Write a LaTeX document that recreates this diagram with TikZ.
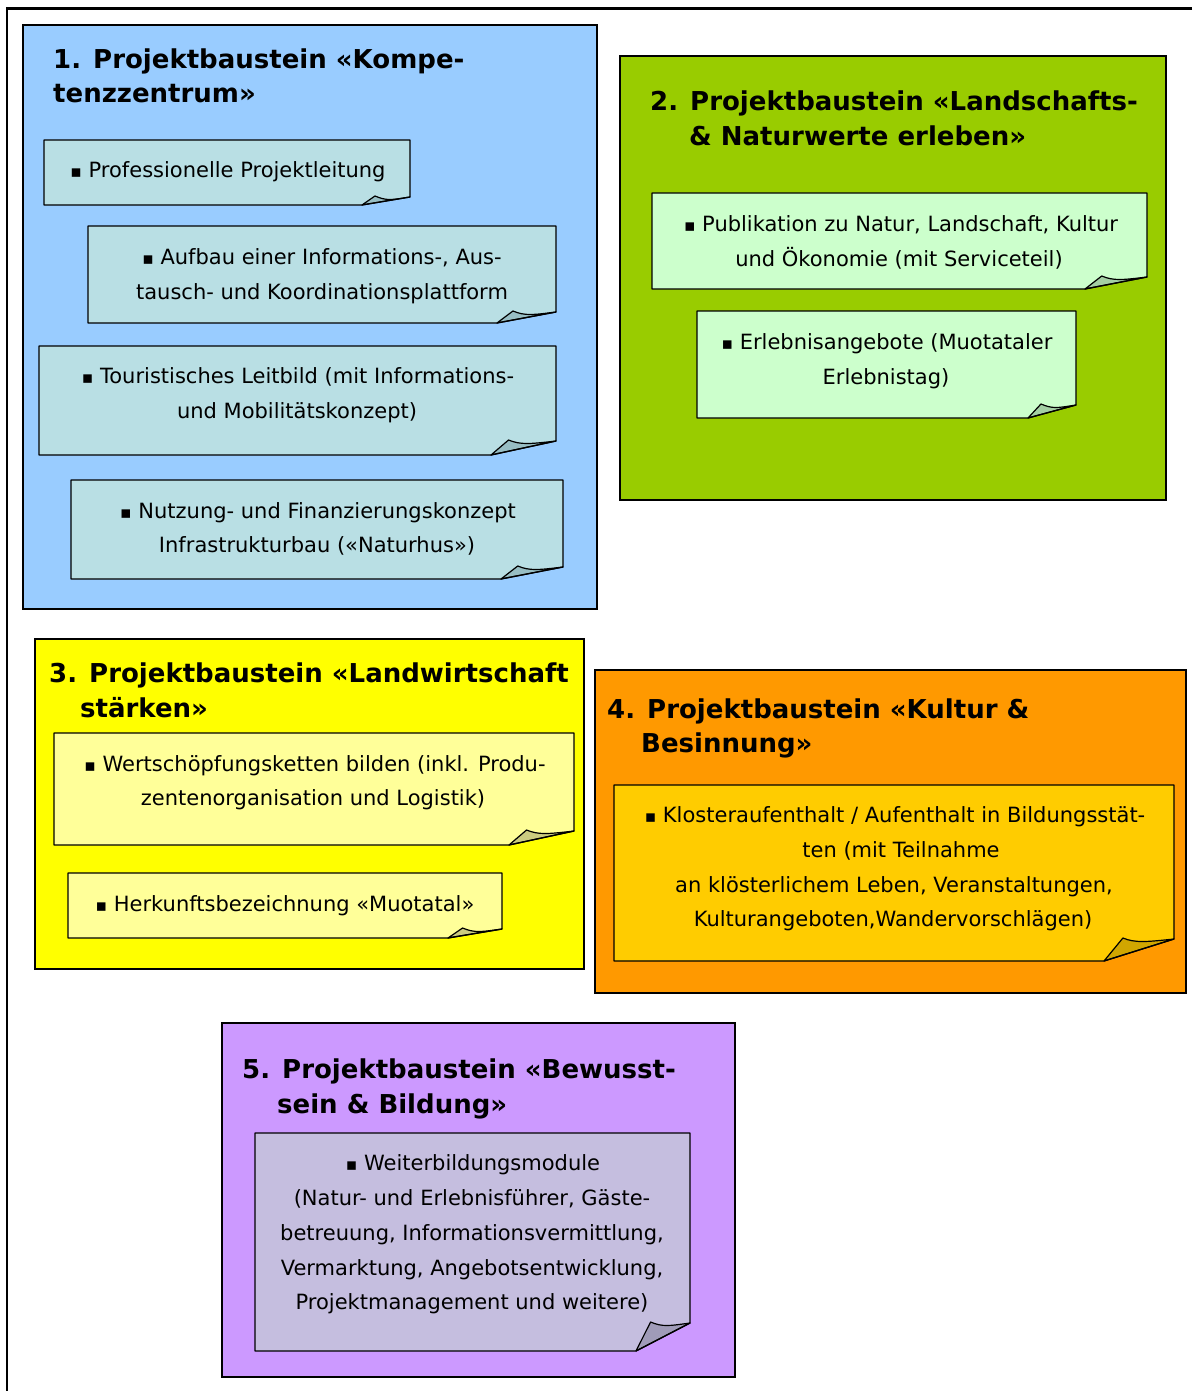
\documentclass[tikz,border=0pt]{standalone}
\usepackage{fontspec}
\setmainfont{DejaVu Sans}
\definecolor{bluebg}{HTML}{99CCFF}
\definecolor{bluenote}{HTML}{B9DFE4}
\definecolor{bluefold}{HTML}{98BEC4}
\definecolor{greenbg}{HTML}{99CC00}
\definecolor{greennote}{HTML}{CCFFCC}
\definecolor{greenfold}{HTML}{A4CFA4}
\definecolor{yellowbg}{HTML}{FFFF00}
\definecolor{yellownote}{HTML}{FFFF99}
\definecolor{yellowfold}{HTML}{CCCC80}
\definecolor{orangebg}{HTML}{FF9900}
\definecolor{orangenote}{HTML}{FFCC00}
\definecolor{orangefold}{HTML}{D1A600}
\definecolor{purplebg}{HTML}{CC99FF}
\definecolor{purplenote}{HTML}{C5BEDF}
\definecolor{purplefold}{HTML}{A09BB8}
\newcommand\notebox[8]{%
  \fill[#7] (#1,#2) -- (#3,#2) -- (#3,#4-#6) -- (#3-#5,#4) -- (#1,#4) -- cycle;
  \filldraw[fill=#8, draw=black, line width=1.2pt, line join=round]
    (#3-#5,#4) -- (#3-0.73*#5,#4-#6-1)
    .. controls (#3-0.73*#5+12,#4-#6+4) and (#3-0.4*#5,#4-#6+3) .. (#3,#4-#6) -- cycle;
  \draw[line width=1.3pt, line join=round] (#1,#2) -- (#3,#2) -- (#3,#4-#6) -- (#3-#5,#4) -- (#1,#4) -- cycle;}
\newcommand\bul{{\fontsize{17}{17}\selectfont▪}}
\begin{document}
\begin{tikzpicture}[x=1pt,y=-1pt,
  outerbox/.style={draw=black, line width=2pt},
  heading/.style={font=\bfseries\fontsize{26}{30}\selectfont, anchor=base west, inner sep=0pt},
  bodytext/.style={font=\fontsize{21}{24}\selectfont, anchor=base, inner sep=0pt}]
\useasboundingbox (0,0) rectangle (1192,1391);
\fill[white] (0,0) rectangle (1192,1391);
% outer frame
\draw[line width=2.5pt] (1192,8.5) -- (7,8.5) -- (7,1391);

% ---------- 1 ----------
\filldraw[fill=bluebg, outerbox] (23,25) rectangle (597,609);
\node[heading] (h1a) at (53,69) {1. Projektbaustein «Kompe-};
\node[heading] (h1b) at (53,103) {tenzzentrum»};
\notebox{44}{140}{410}{205}{48}{8}{bluenote}{bluefold}
\node[bodytext] (t1a) at (228,178) {\bul\ Professionelle Projektleitung};
\notebox{88}{226}{556}{323}{59}{11}{bluenote}{bluefold}
\node[bodytext] (t1b1) at (322,264) {\bul\ Aufbau einer Informations-, Aus-};
\node[bodytext] (t1b2) at (322,299) {tausch- und Koordinationsplattform};
\notebox{39}{346}{556}{455}{65}{14}{bluenote}{bluefold}
\node[bodytext] (t1c1) at (298,383) {\bul\ Touristisches Leitbild (mit Informations-};
\node[bodytext] (t1c2) at (297,418) {und Mobilitätskonzept)};
\notebox{71}{480}{563}{579}{62}{12}{bluenote}{bluefold}
\node[bodytext] (t1d1) at (318,518) {\bul\ Nutzung- und Finanzierungskonzept};
\node[bodytext] (t1d2) at (317,552) {Infrastrukturbau («Naturhus»)};

% ---------- 2 ----------
\filldraw[fill=greenbg, outerbox] (620,56) rectangle (1166,500);
\node[heading] (h2a) at (650,111) {2. Projektbaustein «Landschafts-};
\node[heading] (h2b) at (689,146) {\& Naturwerte erleben»};
\notebox{652}{193}{1147}{289}{62}{12}{greennote}{greenfold}
\node[bodytext] (t2a1) at (901,231) {\bul\ Publikation zu Natur, Landschaft, Kultur};
\node[bodytext] (t2a2) at (899,266) {und Ökonomie (mit Serviceteil)};
\notebox{697}{311}{1076}{418}{48}{13}{greennote}{greenfold}
\node[bodytext] (t2b1) at (887,349) {\bul\ Erlebnisangebote (Muotataler};
\node[bodytext] (t2b2) at (886,384) {Erlebnistag)};

% ---------- 3 ----------
\filldraw[fill=yellowbg, outerbox] (35,639) rectangle (584,969);
\node[heading] (h3a) at (49,682) {3. Projektbaustein «Landwirtschaft};
\node[heading] (h3b) at (80,717) {stärken»};
\notebox{54}{733}{574}{845}{65}{14}{yellownote}{yellowfold}
\node[bodytext] (t3a1) at (315,771) {\bul\ Wertschöpfungsketten bilden (inkl. Produ-};
\node[bodytext] (t3a2) at (313,805) {zentenorganisation und Logistik)};
\notebox{68}{873}{502}{938}{54}{9}{yellownote}{yellowfold}
\node[bodytext] (t3b) at (285,911) {\bul\ Herkunftsbezeichnung «Muotatal»};

% ---------- 4 ----------
\filldraw[fill=orangebg, outerbox] (595,670) rectangle (1186,993);
\node[heading] (h4a) at (607,718) {4. Projektbaustein «Kultur \&};
\node[heading] (h4b) at (641,752) {Besinnung»};
\notebox{614}{785}{1174}{961}{70}{22}{orangenote}{orangefold}
\node[bodytext] (t4a1) at (895,822) {\bul\ Klosteraufenthalt / Aufenthalt in Bildungsstät-};
\node[bodytext] (t4a2) at (901,857) {ten (mit Teilnahme};
\node[bodytext] (t4a3) at (894,892) {an klösterlichem Leben, Veranstaltungen,};
\node[bodytext] (t4a4) at (893,926) {Kulturangeboten,Wandervorschlägen)};

% ---------- 5 ----------
\filldraw[fill=purplebg, outerbox] (222,1023) rectangle (735,1377);
\node[heading] (h5a) at (242,1078) {5. Projektbaustein «Bewusst-};
\node[heading] (h5b) at (277,1113) {sein \& Bildung»};
\notebox{255}{1133}{690}{1351}{54}{28}{purplenote}{purplefold}
\node[bodytext] (t5a1) at (473,1170) {\bul\ Weiterbildungsmodule};
\node[bodytext] (t5a2) at (472,1205) {(Natur- und Erlebnisführer, Gäste-};
\node[bodytext] (t5a3) at (472,1240) {betreuung, Informationsvermittlung,};
\node[bodytext] (t5a4) at (472,1275) {Vermarktung, Angebotsentwicklung,};
\node[bodytext] (t5a5) at (472,1309) {Projektmanagement und weitere)};
\end{tikzpicture}
\end{document}
